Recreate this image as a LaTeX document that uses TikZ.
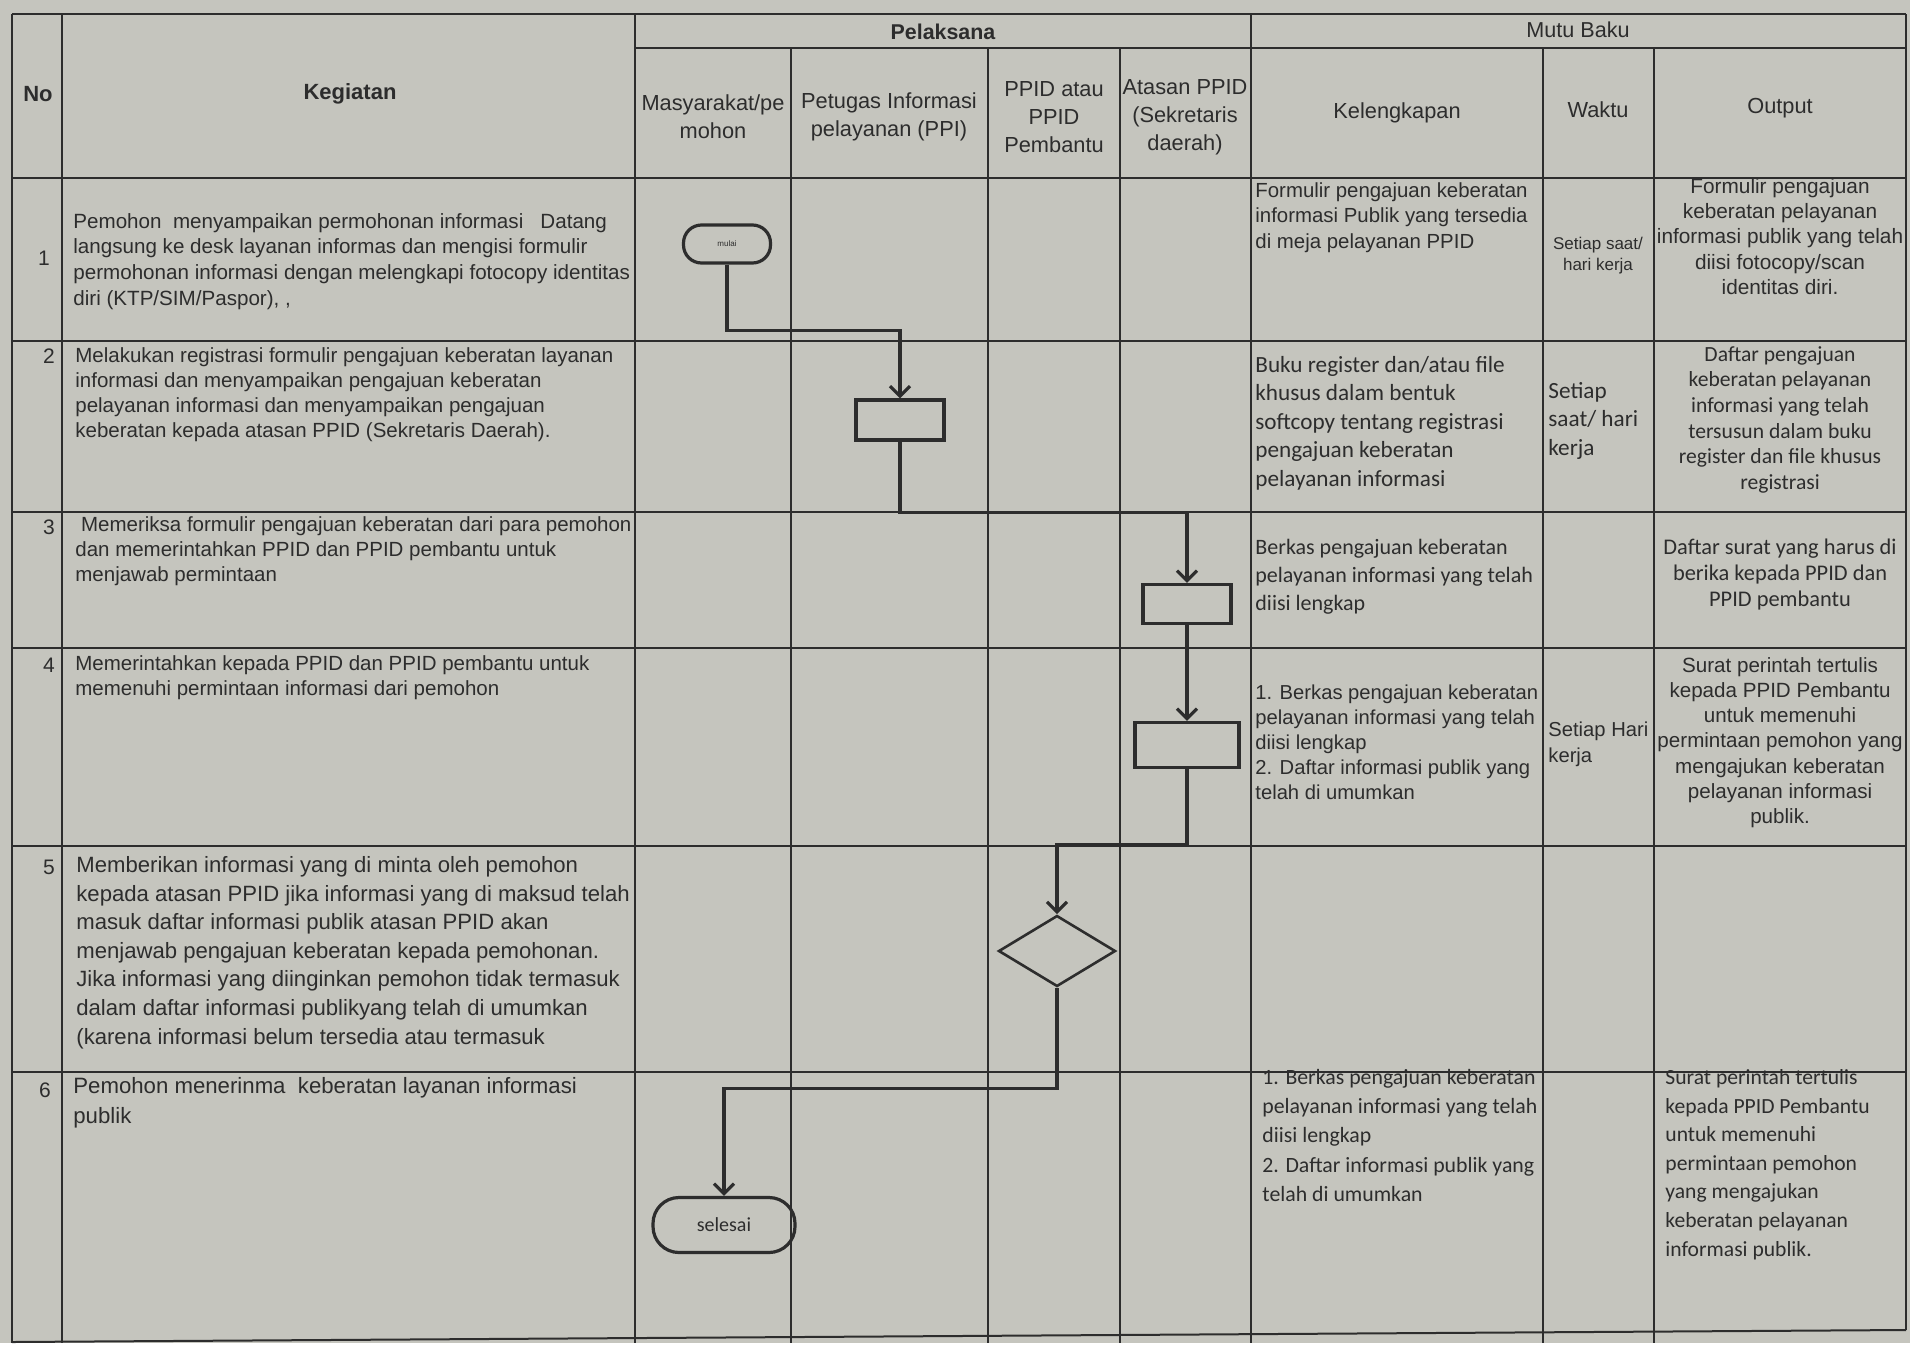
\documentclass[tikz,border=0pt]{standalone}
\usepackage{fontspec}
\setmainfont{Liberation Sans}
\newfontfamily\calibri{Carlito}
\usetikzlibrary{arrows.meta,shapes.geometric}
\definecolor{kertas}{RGB}{197,197,190}
\definecolor{tinta}{RGB}{45,45,45}

\begin{document}
\begin{tikzpicture}[x=0.5pt,y=0.5pt,yscale=-1,
  garis/.style={draw=tinta, line width=1pt},
  alur/.style={draw=tinta, line width=1.6pt, -{Straight Barb[length=5pt,width=10pt]}},
  terminal/.style={draw=tinta, line width=1.6pt, rounded corners=9pt, inner sep=0pt, text=tinta},
  proses/.style={draw=tinta, line width=1.6pt, inner sep=0pt},
  keputusan/.style={diamond, draw=tinta, line width=1.3pt, inner sep=0pt},
  teks/.style={inner sep=0pt, text=tinta, align=left},
  tengah/.style={inner sep=0pt, text=tinta, align=center}]

%Background
\fill [kertas] (0,0) rectangle (1910,1343) ;

%Straight Lines
\draw [garis] (12,14) -- (1906,14) ;
%Straight Lines
\draw [garis] (635,48) -- (1906,48) ;
%Straight Lines
\draw [garis] (12,178) -- (1906,178) ;
%Straight Lines
\draw [garis] (12,341) -- (1906,341) ;
%Straight Lines
\draw [garis] (12,512) -- (1906,512) ;
%Straight Lines
\draw [garis] (12,648) -- (1906,648) ;
%Straight Lines
\draw [garis] (12,846) -- (1906,846) ;
%Straight Lines
\draw [garis] (12,1072) -- (1906,1072) ;
%Straight Lines
\draw [garis] (12,1342) -- (1906,1330) ;
%Straight Lines
\draw [garis] (12,14) -- (12,1343) ;
%Straight Lines
\draw [garis] (62,14) -- (62,1343) ;
%Straight Lines
\draw [garis] (635,14) -- (635,1343) ;
%Straight Lines
\draw [garis] (791,48) -- (791,1343) ;
%Straight Lines
\draw [garis] (988,48) -- (988,1343) ;
%Straight Lines
\draw [garis] (1120,48) -- (1120,1343) ;
%Straight Lines
\draw [garis] (1251,14) -- (1251,1343) ;
%Straight Lines
\draw [garis] (1543,48) -- (1543,1343) ;
%Straight Lines
\draw [garis] (1654,48) -- (1654,1343) ;
%Straight Lines
\draw [garis] (1906,14) -- (1906,1330) ;

% Text Node
\draw (38,94) node [tengah, font=\bfseries\fontsize{11}{13}\selectfont] (no) {No};
% Text Node
\draw (350,94) node [tengah, font=\bfseries\fontsize{11}{13}\selectfont] (kegiatan) {Kegiatan};
% Text Node
\draw (943,32) node [tengah, font=\bfseries\fontsize{10.7}{13}\selectfont] (pelaksana) {Pelaksana};
% Text Node
\draw (1578,30) node [tengah, font=\fontsize{10.8}{13}\selectfont] (mutubaku) {Mutu Baku};
% Text Node
\draw (713,117) node [tengah, font=\fontsize{10.9}{14}\selectfont] (masyarakat) {Masyarakat/pe\\mohon};
% Text Node
\draw (889,117) node [tengah, font=\fontsize{10.9}{14}\selectfont] (ppi) {Petugas Informasi\\pelayanan (PPI)};
% Text Node
\draw (1054,117) node [tengah, font=\fontsize{10.9}{14}\selectfont] (ppid) {PPID atau\\PPID\\Pembantu};
% Text Node
\draw (1185,117) node [tengah, font=\fontsize{10.9}{14}\selectfont] (atasan) {Atasan PPID\\(Sekretaris\\daerah)};
% Text Node
\draw (1397,113) node [tengah, font=\fontsize{10.9}{14}\selectfont] (kelengkapan) {Kelengkapan};
% Text Node
\draw (1598,110) node [tengah, font=\fontsize{10.9}{14}\selectfont] (waktu) {Waktu};
% Text Node
\draw (1780,108) node [tengah, font=\fontsize{10.9}{14}\selectfont] (output) {Output};

% Text Node
\draw (44,258) node [tengah, font=\fontsize{10.5}{12}\selectfont] (n1) {1};
% Text Node
\draw (49,356) node [tengah, font=\fontsize{10.5}{12}\selectfont] (n2) {2};
% Text Node
\draw (49,527) node [tengah, font=\fontsize{10.5}{12}\selectfont] (n3) {3};
% Text Node
\draw (49,665) node [tengah, font=\fontsize{10.5}{12}\selectfont] (n4) {4};
% Text Node
\draw (49,867) node [tengah, font=\fontsize{10.5}{12}\selectfont] (n5) {5};
% Text Node
\draw (45,1090) node [tengah, font=\fontsize{10.5}{12}\selectfont] (n6) {6};

% Text Node
\draw (73,213) node [anchor=north west][teks, font=\fontsize{10.3}{12.8}\selectfont] (k1) {Pemohon\ \ menyampaikan permohonan informasi\ \ \ Datang\\langsung ke desk layanan informas dan mengisi formulir\\permohonan informasi dengan melengkapi fotocopy identitas\\diri (KTP/SIM/Paspor), ,};
% Text Node
\draw (1255,182) node [anchor=north west][teks, font=\fontsize{10.2}{12.8}\selectfont] (kl1) {Formulir pengajuan keberatan\\informasi Publik yang tersedia\\di meja pelayanan PPID};
% Text Node
\draw (1598,256) node [tengah, font=\fontsize{8.5}{10.5}\selectfont] (w1) {Setiap saat/\\hari kerja};
% Text Node
\draw (1780,178) node [anchor=north][tengah, font=\fontsize{10.4}{12.6}\selectfont] (o1) {Formulir pengajuan\\keberatan pelayanan\\informasi publik yang telah\\diisi fotocopy/scan\\identitas diri.};

% Text Node
\draw (75,347) node [anchor=north west][teks, font=\fontsize{10.25}{12.6}\selectfont] (k2) {Melakukan registrasi formulir pengajuan keberatan layanan\\informasi dan menyampaikan pengajuan keberatan\\pelayanan informasi dan menyampaikan pengajuan\\keberatan kepada atasan PPID (Sekretaris Daerah).};
% Text Node
\draw (1255,356) node [anchor=north west][teks, font=\calibri\fontsize{11.6}{14.2}\selectfont] (kl2) {Buku register dan/atau file\\khusus dalam bentuk\\softcopy tentang registrasi\\pengajuan keberatan\\pelayanan informasi};
% Text Node
\draw (1548,382) node [anchor=north west][teks, font=\calibri\fontsize{11.6}{14.2}\selectfont] (w2) {Setiap\\saat/ hari\\kerja};
% Text Node
\draw (1780,346) node [anchor=north][tengah, font=\calibri\fontsize{10.8}{12.8}\selectfont] (o2) {Daftar pengajuan\\keberatan pelayanan\\informasi yang telah\\tersusun dalam buku\\register dan file khusus\\registrasi};

% Text Node
\draw (75,516) node [anchor=north west][teks, font=\fontsize{10.25}{12.6}\selectfont] (k3) {\ Memeriksa formulir pengajuan keberatan dari para pemohon\\dan memerintahkan PPID dan PPID pembantu untuk\\menjawab permintaan};
% Text Node
\draw (1255,539) node [anchor=north west][teks, font=\calibri\fontsize{11}{14}\selectfont] (kl3) {Berkas pengajuan keberatan\\pelayanan informasi yang telah\\diisi lengkap};
% Text Node
\draw (1780,539) node [anchor=north][tengah, font=\calibri\fontsize{11.2}{12.8}\selectfont] (o3) {Daftar surat yang harus di\\berika kepada PPID dan\\PPID pembantu};

% Text Node
\draw (75,655) node [anchor=north west][teks, font=\fontsize{10.25}{12.6}\selectfont] (k4) {Memerintahkan kepada PPID dan PPID pembantu untuk\\memenuhi permintaan informasi dari pemohon};
% Text Node
\draw (1255,684) node [anchor=north west][teks, font=\fontsize{10.1}{12.6}\selectfont] (kl4) {1. Berkas pengajuan keberatan\\pelayanan informasi yang telah\\diisi lengkap\\2. Daftar informasi publik yang\\telah di umumkan};
% Text Node
\draw (1548,721) node [anchor=north west][teks, font=\fontsize{10.1}{13}\selectfont] (w4) {Setiap Hari\\kerja};
% Text Node
\draw (1780,657) node [anchor=north][tengah, font=\fontsize{10.3}{12.6}\selectfont] (o4) {Surat perintah tertulis\\kepada PPID Pembantu\\untuk memenuhi\\permintaan pemohon yang\\mengajukan keberatan\\pelayanan informasi\\publik.};

% Text Node
\draw (76,856) node [anchor=north west][teks, font=\fontsize{11.06}{14.3}\selectfont] (k5) {Memberikan informasi yang di minta oleh pemohon\\kepada atasan PPID jika informasi yang di maksud telah\\masuk daftar informasi publik atasan PPID akan\\menjawab pengajuan keberatan kepada pemohonan.\\Jika informasi yang diinginkan pemohon tidak termasuk\\dalam daftar informasi publikyang telah di umumkan\\(karena informasi belum tersedia atau termasuk};

% Text Node
\draw (73,1077) node [anchor=north west][teks, font=\fontsize{11.1}{15}\selectfont] (k6) {Pemohon menerinma\ \ keberatan layanan informasi\\publik};
% Text Node
\draw (1262,1069) node [anchor=north west][teks, font=\calibri\fontsize{10.9}{14.6}\selectfont] (kl6) {1. Berkas pengajuan keberatan\\pelayanan informasi yang telah\\diisi lengkap\\2. Daftar informasi publik yang\\telah di umumkan};
% Text Node
\draw (1665,1069) node [anchor=north west][teks, font=\calibri\fontsize{10.8}{14.3}\selectfont] (o6) {Surat perintah tertulis\\kepada PPID Pembantu\\untuk memenuhi\\permintaan pemohon\\yang mengajukan\\keberatan pelayanan\\informasi publik.};

%Rounded Rect
\node [terminal, minimum width=43.5pt, minimum height=19pt, font=\fontsize{4}{5}\selectfont] (mulai) at (727,244) {mulai};
%Shape: Rectangle
\node [proses, minimum width=44pt, minimum height=20pt] (registrasi) at (900,420) {};
%Shape: Rectangle
\node [proses, minimum width=44pt, minimum height=19.5pt] (periksa) at (1187,604) {};
%Shape: Rectangle
\node [proses, minimum width=52pt, minimum height=22.5pt] (perintah) at (1187,745) {};
%Flowchart: Decision
\node [keputusan, minimum width=58.5pt, minimum height=35.5pt] (cek) at (1057,951) {};
%Rounded Rect
\node [terminal, minimum width=71pt, minimum height=27.5pt, rounded corners=13pt, font=\calibri\fontsize{10}{12}\selectfont] (selesai) at (724,1225) {selesai};

%Straight Lines
\draw [alur] (mulai.south) -- ++(0,66) -| (registrasi.north) ;
%Straight Lines
\draw [alur] (registrasi.south) -- ++(0,71) -| (periksa.north) ;
%Straight Lines
\draw [alur] (periksa) -- (perintah) ;
%Straight Lines
\draw [alur] (perintah.south) -- ++(0,75) -| (cek.north) ;
%Straight Lines
\draw [alur] (cek.south) -- ++(0,101) -| (selesai.north) ;

\end{tikzpicture}
\end{document}
